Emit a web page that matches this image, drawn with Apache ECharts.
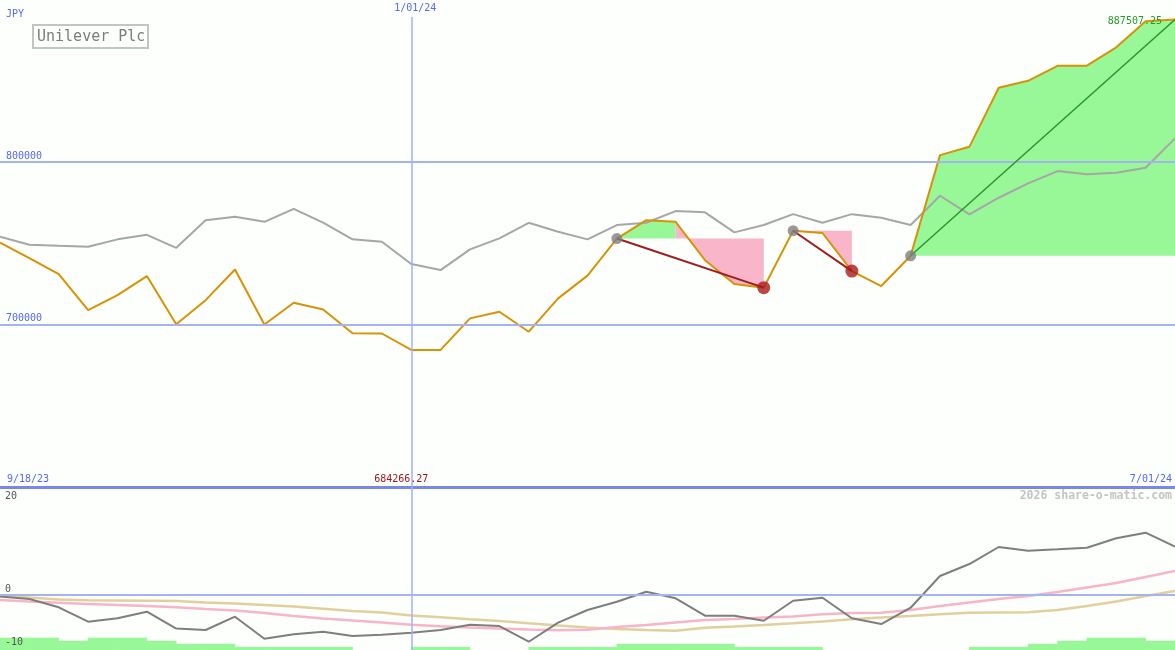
<!DOCTYPE html>
<html><head><meta charset="utf-8">
<script src="https://cdn.jsdelivr.net/npm/echarts@6/dist/echarts.min.js"></script>
<style>html,body{margin:0;padding:0;background:#fcfffc}#c{width:1175px;height:650px}</style>
</head><body><div id="c"></div>
<script>
// ---- data (weekly points, index 0 = 9/18/23, index 40 = 7/01/24) ----
const price = [750300, 740800, 730900, 708800, 718000, 729700, 700100, 714900, 733800, 699900,
  713300, 709200, 694500, 694400, 684266.27, 684300, 703700, 707800, 695500, 716000,
  730000, 752800, 764100, 763100, 739500, 724800, 722600, 757600, 756200, 732800,
  723600, 742200, 804100, 809200, 845500, 849800, 859000, 859100, 870400, 886500, 887507.25];
const avgLine = [753900, 749000, 748300, 747700, 752300, 755100, 747100, 764000, 766200, 763100,
  771000, 762600, 752300, 750800, 737100, 733400, 746100, 752900, 762500, 757000,
  752300, 761100, 762500, 769700, 768900, 756600, 761100, 767800, 762500, 767800,
  765600, 761100, 779100, 767700, 777900, 786700, 794300, 792400, 793200, 796300, 814400];
const oscMain = [-0.34, -0.81, -2.38, -5.09, -4.45, -3.21, -6.38, -6.66, -4.15, -8.32,
  -7.47, -6.98, -7.79, -7.55, -7.17, -6.66, -5.66, -5.91, -8.87, -5.28,
  -2.89, -1.32, 0.57, -0.68, -3.96, -3.96, -4.91, -1.13, -0.57, -4.45,
  -5.53, -2.45, 3.53, 5.79, 9.0, 8.3, 8.57, 8.87, 10.64, 11.7, 9.06];
const oscPink = [-1.0, -1.28, -1.51, -1.75, -1.94, -2.13, -2.38, -2.70, -2.98, -3.45,
  -4.02, -4.49, -4.87, -5.25, -5.68, -5.96, -6.19, -6.38, -6.57, -6.72,
  -6.62, -6.09, -5.72, -5.25, -4.77, -4.58, -4.30, -4.11, -3.70, -3.45,
  -3.40, -2.89, -2.13, -1.47, -0.81, -0.25, 0.51, 1.36, 2.21, 3.34, 4.47];
const oscTan = [-0.25, -0.53, -0.91, -1.04, -1.09, -1.13, -1.19, -1.47, -1.66, -1.94,
  -2.23, -2.66, -3.08, -3.36, -3.92, -4.26, -4.62, -4.96, -5.40, -5.81,
  -6.19, -6.47, -6.66, -6.79, -6.25, -6.0, -5.72, -5.40, -5.06, -4.62,
  -4.30, -4.02, -3.70, -3.40, -3.36, -3.32, -2.89, -2.13, -1.28, -0.25, 0.70];
// one value per week interval (40 intervals)
const histLevels = [4, 4, 3, 4, 4, 3, 2, 2, 1, 1, 1, 1, 0, 0, 1, 1, 0, 0, 1, 1,
  1, 2, 2, 2, 2, 1, 1, 1, 0, 0, 0, 0, 0, 1, 1, 2, 3, 4, 4, 3];
const swingStart = [21, 27, 31];
const fallEnd = [26, 29];
const fallLines = [[21, 26], [27, 29]];
const riseLines = [[31, 40]];
const riseFill = [[21, 23, 21], [31, 40, 31]];   // from, to, base index
const fallFill = [[23, 26, 21], [27, 29, 27]];
const topTicks = [700000, 800000];
const bottomTicks = [20, 0, -10];
const dateIdx = [0, 14, 40];
const dateText = ['9/18/23', '1/01/24', '7/01/24'];
const minIdx = 14, maxIdx = 40;
const minText = '684266.27', maxText = '887507.25';
const title = 'Unilever Plc', currency = 'JPY', credit = '2026 share-o-matic.com';

// ---- chart ----
const pts = arr => arr.map((v, i) => [i, v]);
const range = (a, b, arr) => { const r = []; for (let i = a; i <= b; i++) r.push([i, arr[i]]); return r; };
const FONT = '"DejaVu Sans Mono", monospace';
const BLUE = '#5868f0', GRIDC = '#a6b3f2', VLINE = '#a2b1fa';

const chart = echarts.init(document.getElementById('c'), null, {renderer: 'canvas'});
const series = [];

riseFill.forEach(f => series.push({
  type: 'line', xAxisIndex: 0, yAxisIndex: 0, data: range(f[0], f[1], price), symbol: 'none', silent: true,
  lineStyle: {width: 0, opacity: 0}, areaStyle: {color: '#98f898', opacity: 1, origin: price[f[2]]}, z: 1
}));
fallFill.forEach(f => series.push({
  type: 'line', xAxisIndex: 0, yAxisIndex: 0, data: range(f[0], f[1], price), symbol: 'none', silent: true,
  lineStyle: {width: 0, opacity: 0}, areaStyle: {color: '#f9b6ca', opacity: 1, origin: price[f[2]]}, z: 1
}));
series.push({
  type: 'line', xAxisIndex: 0, yAxisIndex: 0, data: pts(avgLine), symbol: 'none', silent: true,
  lineStyle: {color: '#a6a6a6', width: 2}, z: 3,
  markLine: {silent: true, symbol: 'none', label: {show: false},
    lineStyle: {color: VLINE, width: 1.5, type: 'solid', opacity: 1},
    data: [[{coord: [dateIdx[1], 600000]}, {coord: [dateIdx[1], 889000]}]]}
});
series.push({
  type: 'line', xAxisIndex: 0, yAxisIndex: 0, data: pts(price), symbol: 'none', silent: true,
  lineStyle: {color: '#d89206', width: 2}, z: 4,
  markLine: {silent: true, symbol: 'none', label: {show: false},
    lineStyle: {color: GRIDC, width: 2, type: 'solid'},
    data: topTicks.map(v => ({yAxis: v}))}
});
fallLines.forEach(l => series.push({
  type: 'line', xAxisIndex: 0, yAxisIndex: 0, data: [[l[0], price[l[0]]], [l[1], price[l[1]]]],
  symbol: 'none', silent: true, lineStyle: {color: '#a01c1c', width: 2}, z: 5
}));
riseLines.forEach(l => series.push({
  type: 'line', xAxisIndex: 0, yAxisIndex: 0, data: [[l[0], price[l[0]]], [l[1], price[l[1]]]],
  symbol: 'none', silent: true, lineStyle: {color: '#2a962a', width: 1.5}, z: 5
}));
series.push({
  type: 'scatter', xAxisIndex: 0, yAxisIndex: 0, data: swingStart.map(i => [i, price[i]]),
  symbolSize: 11, itemStyle: {color: '#808080'}, silent: true, z: 6
});
series.push({
  type: 'scatter', xAxisIndex: 0, yAxisIndex: 0, data: fallEnd.map(i => [i, price[i]]),
  symbolSize: 13, itemStyle: {color: '#a81c1c'}, silent: true, z: 6
});
// bottom panel
series.push({
  type: 'bar', xAxisIndex: 1, yAxisIndex: 2, data: histLevels.map((v, i) => [i + 0.5, v]),
  barWidth: 30, itemStyle: {color: '#98f898'}, silent: true, z: 1
});
series.push({
  type: 'line', xAxisIndex: 1, yAxisIndex: 1, data: pts(oscTan), symbol: 'none', silent: true,
  lineStyle: {color: '#e2cf9e', width: 2.5}, z: 3,
  markLine: {silent: true, symbol: 'none', label: {show: false},
    lineStyle: {color: VLINE, width: 1.5, type: 'solid', opacity: 1}, data: [{xAxis: dateIdx[1]}]}
});
series.push({
  type: 'line', xAxisIndex: 1, yAxisIndex: 1, data: pts(oscPink), symbol: 'none', silent: true,
  lineStyle: {color: '#f8b4c8', width: 2.5}, z: 3,
  markLine: {silent: true, symbol: 'none', label: {show: false},
    lineStyle: {color: GRIDC, width: 2, type: 'solid'}, data: [{yAxis: 0}]}
});
series.push({
  type: 'line', xAxisIndex: 1, yAxisIndex: 1, data: pts(oscMain), symbol: 'none', silent: true,
  lineStyle: {color: '#7e7e7e', width: 2}, z: 4
});

chart.setOption({
  animation: false,
  backgroundColor: '#fcfffc',
  grid: [
    {left: 0, right: 0, top: 0, height: 487},
    {left: 0, right: 0, top: 487, height: 163}
  ],
  xAxis: [
    {type: 'value', gridIndex: 0, min: 0, max: 40, axisLine: {show: true, onZero: false, lineStyle: {color: '#7888ea', width: 3}},
      axisTick: {show: false}, axisLabel: {show: false}, splitLine: {show: false}},
    {type: 'value', gridIndex: 1, min: 0, max: 40, show: false, splitLine: {show: false}}
  ],
  yAxis: [
    {type: 'value', gridIndex: 0, min: 600000, max: 899500, show: false, splitLine: {show: false}},
    {type: 'value', gridIndex: 1, min: -10.43, max: 20.32, show: false, splitLine: {show: false}},
    {type: 'value', gridIndex: 1, min: 0, max: 53, show: false, splitLine: {show: false}}
  ],
  series: series
});

// ---- texts placed through the axes ----
const P0 = (x, y) => chart.convertToPixel({gridIndex: 0}, [x, y]);
const P1 = (x, y) => chart.convertToPixel({gridIndex: 1}, [x, y]);
const txt = (text, x, y, color, align, size, weight) => ({
  type: 'text', x: x, y: y, silent: true, z: 100,
  style: {text: text, fill: color, font: (weight || 'normal') + ' ' + (size || 10) + 'px ' + FONT,
    align: align || 'left', verticalAlign: 'middle'}
});
const g = [];
const panelBottom = P0(0, 600000)[1];
const panelTop1 = P1(0, 20.32)[1];
g.push(txt(currency, 6, 14, BLUE));
g.push({type: 'rect', shape: {x: 33, y: 25, width: 115, height: 23}, silent: true, z: 100,
  style: {fill: '#fcfffc', stroke: '#c4c4c4', lineWidth: 2}});
g.push(txt(title, 37, 37, '#7c7c7c', 'left', 15));
topTicks.forEach(v => g.push(txt(String(v), 6, P0(0, v)[1] - 5.5, BLUE)));
bottomTicks.forEach(v => {
  const y = Math.max(P1(0, v)[1] - 5.7, panelTop1 + 9);
  g.push(txt(String(v), 5, y, '#555555'));
});
g.push(txt(dateText[0], P0(dateIdx[0], 0)[0] + 7, panelBottom - 8, BLUE, 'left'));
g.push(txt(dateText[1], P0(dateIdx[1], 0)[0] + 4, 8, BLUE, 'center'));
g.push(txt(dateText[2], P0(dateIdx[2], 0)[0] - 3, panelBottom - 8, BLUE, 'right'));
g.push(txt(minText, P0(minIdx, 0)[0] - 10, panelBottom - 8, '#a01818', 'center'));
g.push(txt(maxText, P0(maxIdx, 0)[0] - 13, P0(maxIdx, price[maxIdx])[1] + 2, '#2a9a2a', 'right'));
g.push(txt(credit, 1172, panelTop1 + 9, '#c4c4c4', 'right', 11.5, 'bold'));
chart.setOption({graphic: g});
</script></body></html>
